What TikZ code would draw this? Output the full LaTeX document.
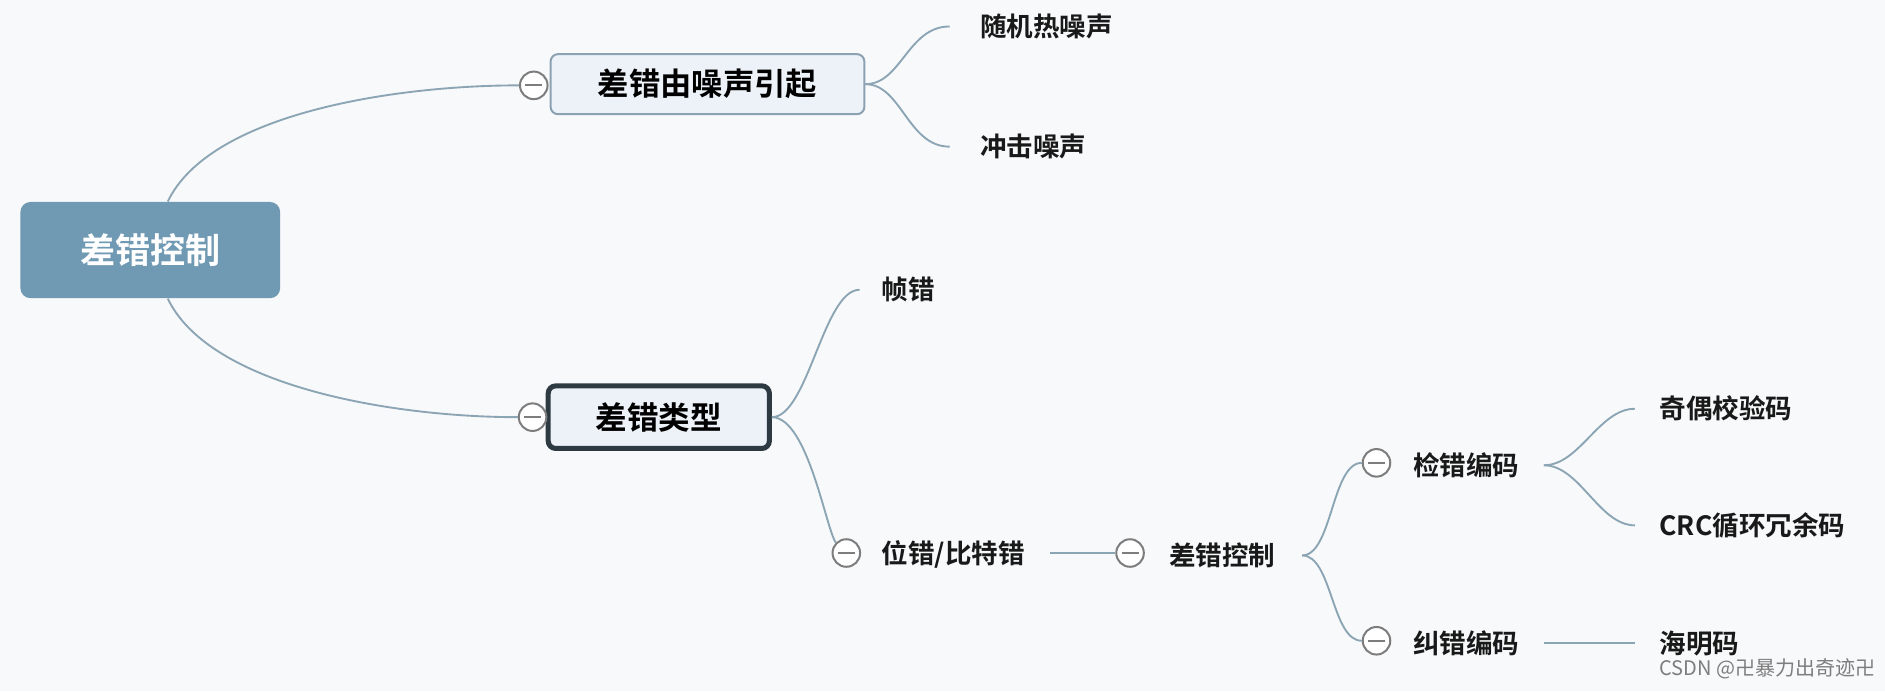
\documentclass[tikz,border=0pt]{standalone}
\usepackage{fontspec}
\setmainfont{Noto Sans CJK SC}[BoldFont={Noto Sans CJK SC Bold}]
\usetikzlibrary{calc}
\definecolor{bgc}{RGB}{248,249,250}
\definecolor{rootfill}{RGB}{112,153,179}
\definecolor{boxfill}{RGB}{236,242,248}
\definecolor{boxline}{RGB}{140,162,178}
\definecolor{darkline}{RGB}{46,58,66}
\definecolor{connc}{RGB}{140,165,180}
\definecolor{circc}{RGB}{125,125,125}
\definecolor{wmc}{RGB}{125,125,125}
\tikzset{
  rootbox/.style={fill=rootfill, rounded corners=4pt, minimum width=103.7pt, minimum height=38.4pt, inner sep=0pt, text=white, font=\fontsize{14pt}{16pt}\selectfont\bfseries},
  boxone/.style={fill=boxfill, draw=boxline, line width=0.8pt, rounded corners=3pt, minimum width=125.3pt, minimum height=24pt, inner sep=0pt, font=\fontsize{12.5pt}{14pt}\selectfont\bfseries},
  boxtwo/.style={fill=boxfill, draw=darkline, line width=2pt, rounded corners=3pt, minimum width=88.3pt, minimum height=25pt, inner sep=0pt, font=\fontsize{12.6pt}{14pt}\selectfont\bfseries},
  leaf/.style={anchor=west, inner sep=0pt, font=\fontsize{10.6pt}{12pt}\selectfont\bfseries, text=black!90},
  toggle/.style={circle, draw=circc, fill=white, line width=0.8pt, minimum size=11pt, inner sep=0pt,
    path picture={\draw[circc, line width=0.8pt] ($(path picture bounding box.center)+(-3.4pt,0)$) -- ($(path picture bounding box.center)+(3.4pt,0)$);}},
  conn/.style={draw=connc, line width=0.75pt},
  wmark/.style={anchor=west, inner sep=0pt, text=wmc, font=\fontsize{8pt}{9pt}\selectfont}
}
\begin{document}
\begin{tikzpicture}[x=0.48pt,y=-0.48pt]
\fill[bgc] (0,0) rectangle (1568,575);
\useasboundingbox (0,0) rectangle (1568,575);

\node[rootbox] (root) at (125,208) {差错控制};
\node[boxone] (b1) at (588.5,70) {差错由噪声引起};
\node[boxtwo] (b2) at (548,347) {差错类型};
\node[toggle] (c1) at (444,71) {};
\node[toggle] (c2) at (443,347) {};
\node[leaf] (l1) at (815,22) {随机热噪声};
\node[leaf] (l2) at (815,122) {冲击噪声};
\node[leaf] (l3) at (733,241) {帧错};
\node[toggle] (c3) at (704,460) {};
\node[leaf] (l4) at (733,461) {位错/比特错};
\node[toggle] (c4) at (940,460) {};
\node[leaf] (l5) at (972,462) {差错控制};
\node[toggle] (c5) at (1145,385) {};
\node[leaf] (l6) at (1175,387) {检错编码};
\node[toggle] (c6) at (1145,533) {};
\node[leaf] (l7) at (1175,535) {纠错编码};
\node[leaf] (l8) at (1380,340) {奇偶校验码};
\node[leaf] (l9) at (1380,437) {CRC循环冗余码};
\node[leaf] (l10) at (1380,535) {海明码};
\node[wmark] (wm) at (1380,556) {CSDN @卍暴力出奇迹卍};

% connectors
\draw[conn] ([xshift=7pt]root.north) .. controls +(35,-73) and +(-104,0) .. (c1.west);
\draw[conn] ([xshift=7pt]root.south) .. controls +(35,73) and +(-104,0) .. (c2.west);
\draw[conn] (b1.east) .. controls +(30,0) and +(-35,0) .. ($(l1.west)+(-25,0)$);
\draw[conn] (b1.east) .. controls +(30,0) and +(-35,0) .. ($(l2.west)+(-25,0)$);
\draw[conn] (b2.east) .. controls +(30,0) and +(-30,0) .. ($(l3.west)+(-18,0)$);
\draw[conn] (b2.east) .. controls +(30,0) and +(-8,-10) .. (c3.north west);
\draw[conn] (c4.west) -- ++(-54,0);
\draw[conn] ($(l5.east)+(22,0)$) .. controls +(25,0) and +(-25,0) .. (c5.west);
\draw[conn] ($(l5.east)+(22,0)$) .. controls +(25,0) and +(-25,0) .. (c6.west);
\draw[conn] ($(l6.east)+(20,0)$) .. controls +(30,0) and +(-30,0) .. ($(l8.west)+(-20,0)$);
\draw[conn] ($(l6.east)+(20,0)$) .. controls +(30,0) and +(-30,0) .. ($(l9.west)+(-20,0)$);
\draw[conn] ($(l7.east)+(20,0)$) -- ($(l10.west)+(-20,0)$);
\end{tikzpicture}
\end{document}
